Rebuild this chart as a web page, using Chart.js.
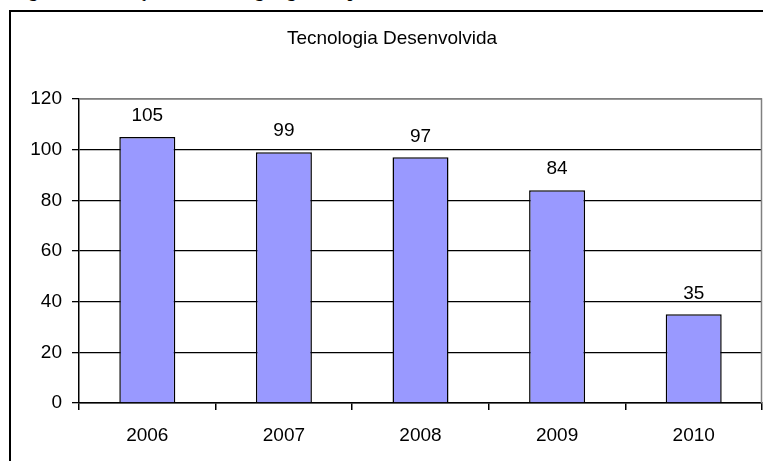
<!DOCTYPE html>
<html><head><meta charset="utf-8">
<script src="https://cdn.jsdelivr.net/npm/chart.js@4"></script>
<style>
html,body{margin:0;padding:0;background:#fff;overflow:hidden;width:763px;height:461px;}
#cap{position:absolute;left:14px;top:-17px;font:bold 17px "Liberation Serif","Times New Roman",serif;line-height:17px;white-space:nowrap;color:#000;word-spacing:6px;}
#box{position:absolute;left:9px;top:10px;width:820px;height:520px;border:2px solid #000;box-sizing:border-box;}
#wrap{position:absolute;left:0;top:0;width:763px;height:461px;}
</style></head><body>
<div id="cap">Figura 1: Evolução da tecnologia gerada por ano</div>
<div id="box"></div>
<div id="wrap"><canvas id="c"></canvas></div>
<script>
const chartTitle = 'Tecnologia Desenvolvida';
const categories = ['2006', '2007', '2008', '2009', '2010'];
const values = [105, 99, 97, 84, 35];
const yTicks = [0, 20, 40, 60, 80, 100, 120];

const FONT = 'Liberation Sans, Arial, sans-serif';
const FSIZE = 19;

const titlePlugin = {
  id: 'fixedTitle',
  afterDraw(chart) {
    const ctx = chart.ctx;
    ctx.save();
    ctx.font = FSIZE + 'px ' + FONT;
    ctx.fillStyle = '#000';
    ctx.textAlign = 'center';
    ctx.textBaseline = 'middle';
    ctx.fillText(chartTitle, 392, 39);
    ctx.restore();
  }
};

const valueLabels = {
  id: 'valueLabels',
  afterDatasetsDraw(chart) {
    const ctx = chart.ctx;
    const meta = chart.getDatasetMeta(0);
    ctx.save();
    ctx.font = FSIZE + 'px ' + FONT;
    ctx.fillStyle = '#000';
    ctx.textAlign = 'center';
    ctx.textBaseline = 'middle';
    meta.data.forEach((el, i) => {
      ctx.fillText(String(values[i]), el.x, el.y - 21);
    });
    ctx.restore();
  }
};

const plotBorder = {
  id: 'plotBorder',
  afterDraw(chart) {
    const a = chart.chartArea;
    const ctx = chart.ctx;
    ctx.save();
    ctx.strokeStyle = '#808080';
    ctx.lineWidth = 1.5;
    ctx.beginPath();
    ctx.moveTo(a.left, a.top);
    ctx.lineTo(a.right - 0.5, a.top);
    ctx.lineTo(a.right - 0.5, a.bottom);
    ctx.stroke();
    ctx.restore();
  }
};

new Chart(document.getElementById('c'), {
  type: 'bar',
  data: {
    labels: categories,
    datasets: [{
      data: values,
      backgroundColor: '#9999FF',
      borderColor: '#000',
      borderWidth: 1.5,
      barPercentage: 0.41,
      categoryPercentage: 1
    }]
  },
  options: {
    responsive: true,
    maintainAspectRatio: false,
    animation: false,
    layout: { padding: { top: 99, right: 1, bottom: 0, left: 0 } },
    plugins: {
      legend: { display: false },
      tooltip: { enabled: false },
      title: { display: false }
    },
    scales: {
      x: {
        grid: { display: true, drawOnChartArea: false, drawTicks: true, tickLength: 7, color: '#000', lineWidth: 1.5, offset: true },
        border: { display: true, color: '#000', width: 1.5 },
        ticks: { color: '#000', font: { family: FONT, size: FSIZE }, padding: 14, maxRotation: 0 },
        afterFit(s) { s.height = 58; }
      },
      y: {
        min: 0, max: 120,
        afterBuildTicks(s) { s.ticks = yTicks.map(v => ({ value: v })); },
        grid: {
          color: ctx => (ctx.tick && ctx.tick.value === 120) ? '#808080' : '#000',
          tickColor: '#000',
          lineWidth: 1.3,
          tickLength: 7,
          drawTicks: true
        },
        border: { display: true, color: '#000', width: 1.5 },
        ticks: { color: '#000', font: { family: FONT, size: FSIZE }, padding: 10 },
        afterFit(s) { s.width = 79; }
      }
    }
  },
  plugins: [titlePlugin, valueLabels, plotBorder]
});
</script>
</body></html>
